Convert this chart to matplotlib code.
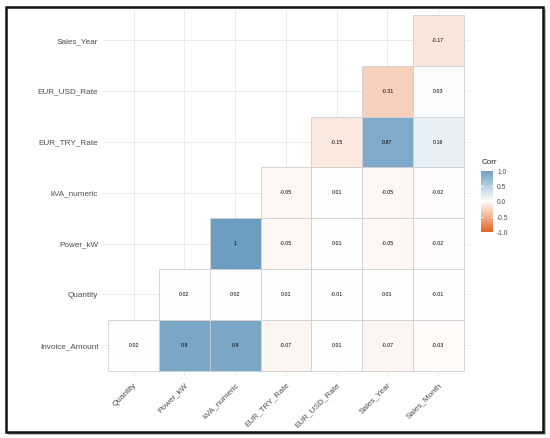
import matplotlib
matplotlib.use("Agg")
import matplotlib.pyplot as plt
import numpy as np
from matplotlib.colors import LinearSegmentedColormap, Normalize
from matplotlib.patches import Rectangle
from matplotlib.lines import Line2D

plt.rcParams['font.family'] = ['Liberation Sans', 'DejaVu Sans']

row_labels = ["Invoice_Amount", "Quantity", "Power_kW", "kVA_numeric",
              "EUR_TRY_Rate", "EUR_USD_Rate", "Sales_Year"]
col_labels = ["Quantity", "Power_kW", "kVA_numeric", "EUR_TRY_Rate",
              "EUR_USD_Rate", "Sales_Year", "Sales_Month"]

# values per row, starting at the diagonal column (column index == row index)
invoice_amount = [0.02, 0.9, 0.9, -0.07, 0.01, -0.07, -0.03]
quantity = [0.02, 0.02, 0.01, -0.01, 0.01, -0.01]
power_kw = [1, -0.05, 0.01, -0.05, -0.02]
kva_numeric = [-0.05, 0.01, -0.05, -0.02]
eur_try_rate = [-0.15, 0.87, 0.16]
eur_usd_rate = [-0.31, 0.03]
sales_year = [-0.17]
rows_values = [invoice_amount, quantity, power_kw, kva_numeric,
               eur_try_rate, eur_usd_rate, sales_year]

cmap = LinearSegmentedColormap.from_list("corr", ["#E46726", "#FFFFFF", "#6D9EC1"])
norm = Normalize(-1, 1)

W, H = 550, 438
fig = plt.figure(figsize=(W / 100, H / 100), dpi=100)

def fx(px):
    return px / W

def fy(py):
    return 1 - py / H

# shadow on right and bottom
fig.add_artist(Line2D([fx(544.5), fx(544.5), fx(9)], [fy(10), fy(433.5), fy(433.5)],
                      color="#A8A8A8", lw=1.2, transform=fig.transFigure, zorder=0))
# outer black frame
fig.patches.append(Rectangle((fx(6), fy(431.5)), 536.5 / W, 424.5 / H,
                             transform=fig.transFigure, fill=False,
                             edgecolor="#111111", lw=1.8, zorder=1))

ax = fig.add_axes([fx(103.2), fy(375.8), 365.4 / W, 365.9 / H])
ax.set_xlim(-0.6, 6.6)
ax.set_ylim(-0.6, 6.6)
for s in ax.spines.values():
    s.set_visible(False)

for k in range(7):
    ax.axvline(k, color="#EBEBEB", lw=0.7, zorder=0)
    ax.axhline(k, color="#EBEBEB", lw=0.7, zorder=0)

for i, vals in enumerate(rows_values):
    for off, v in enumerate(vals):
        j = i + off
        ax.add_patch(Rectangle((j - 0.5, i - 0.5), 1, 1,
                               facecolor=cmap(norm(v)), edgecolor="#D0D0D0",
                               lw=0.6, zorder=2))
        ax.text(j, i, f"{v:g}", ha="center", va="center", fontsize=3.8,
                color="black", zorder=3)

ax.set_xticks(range(7))
ax.set_yticks(range(7))
ax.set_yticklabels(row_labels, fontsize=5.9, color="#4D4D4D")
ax.set_xticklabels(col_labels, fontsize=5.9, color="#4D4D4D",
                   rotation=45, ha="right", va="top", rotation_mode="anchor")
ax.tick_params(axis="both", length=0)
ax.tick_params(axis="y", pad=3.5)
ax.tick_params(axis="x", pad=4)

# colour bar legend
cax = fig.add_axes([fx(481), fy(232.5), 12 / W, 61.5 / H])
grad = np.linspace(-1, 1, 200).reshape(-1, 1)
cax.imshow(grad, cmap=cmap, norm=norm, aspect="auto", origin="lower",
           extent=(0, 1, -1, 1))
cax.set_xlim(0, 1)
cax.set_ylim(-1, 1)
for s in cax.spines.values():
    s.set_visible(False)
cax.set_xticks([])
ticks = [-1.0, -0.5, 0.0, 0.5, 1.0]
cax.yaxis.tick_right()
cax.set_yticks(ticks)
cax.set_yticklabels([f"{t:.1f}" for t in ticks], fontsize=4.8, color="#4D4D4D")
cax.tick_params(axis="y", length=0, pad=3)
for t in ticks[1:-1]:
    cax.plot([0, 0.2], [t, t], color="white", lw=0.6)
    cax.plot([0.8, 1], [t, t], color="white", lw=0.6)
fig.text(fx(481.5), fy(163), "Corr", fontsize=5.8, color="#222222",
         ha="left", va="center")

fig.savefig("out.png", dpi=100)
